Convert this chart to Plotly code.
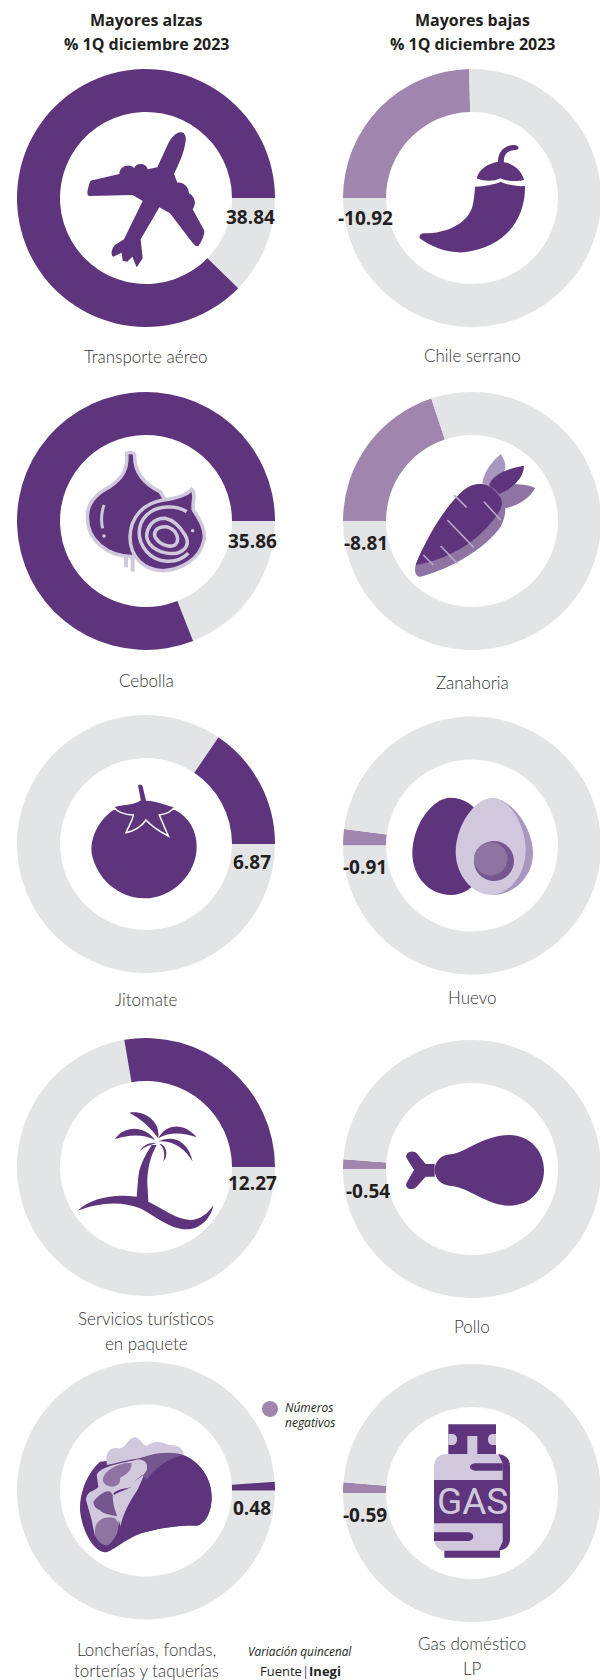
import re
import plotly.graph_objects as go

# La página añade 8 px de margen al cuerpo: la figura ocupa 600x1672 a partir de (8, 8).
PAGE_MARGIN = 8
W, H = 600, 1672
PURPLE = "#5E357C"
NEG = "#A085AE"
GRAY = "#E3E4E6"
L1 = "#D2C8DE"
L2 = "#A996BF"
L3 = "#8F74A3"
L4 = "#76568F"
DARK = "#231F20"
LABEL = "#333335"
FONT = "Open Sans"
LABEL_FONT = "Lato"

SCALE_MAX = 44.3

alzas_names = ["Transporte aéreo", "Cebolla", "Jitomate", "Servicios turísticos<br>en paquete",
               "Loncherías, fondas,<br>torterías y taquerías"]
alzas_values = [38.84, 35.86, 6.87, 12.27, 0.48]
alzas_labels = ["38.84", "35.86", "6.87", "12.27", "0.48"]
bajas_names = ["Chile serrano", "Zanahoria", "Huevo", "Pollo", "Gas doméstico<br>LP"]
bajas_values = [-10.92, -8.81, -0.91, -0.54, -0.59]
bajas_labels = ["-10.92", "-8.81", "-0.91", "-0.54", "-0.59"]

left_cx = 146
right_cx = 472
left_cy = [198, 521, 844, 1167, 1490.5]
right_cy = [198, 521, 845.5, 1169, 1493]
R = 129
HOLE = 86 / 129

left_val_pos = [(250, 217), (252, 541), (252, 862), (252, 1183), (252, 1508)]
right_val_pos = [(365, 218), (366, 543), (365, 867), (368, 1191), (365, 1515)]
left_lab_y = [357, 680, 999, 1330, 1662]
right_lab_y = [355, 683, 998, 1326, 1655]


def px(x):
    return (x - PAGE_MARGIN) / W


def py(y):
    return 1 - (y - PAGE_MARGIN) / H


fig = go.Figure()


def donut(cx, cy, val):
    v = abs(val)
    rest = SCALE_MAX - v
    pos = val > 0
    fig.add_trace(go.Pie(
        values=[rest, v] if pos else [v, rest],
        marker=dict(colors=[GRAY, PURPLE] if pos else [NEG, GRAY], line=dict(width=0)),
        hole=HOLE, sort=False, textinfo="none", hoverinfo="skip", showlegend=False,
        rotation=90 if pos else 270,
        direction="clockwise",
        domain=dict(x=[px(cx - R), px(cx + R)], y=[py(cy + R), py(cy - R)]),
    ))


for c, v in zip(left_cy, alzas_values):
    donut(left_cx, c, v)
for c, v in zip(right_cy, bajas_values):
    donut(right_cx, c, v)


def to_paper(path, x0, y0):
    toks = re.findall(r"[MLCQZ]|-?\d+\.?\d*", path)
    out, is_x = [], True
    for t in toks:
        if t in "MLCQZ":
            out.append(t)
        else:
            n = float(t)
            if is_x:
                out.append(f"{px(x0 + n / 3):.5f},")
            else:
                out.append(f"{py(y0 + n / 3):.5f}")
            is_x = not is_x
    return " ".join(out).replace(", ", ",")


shapes = []


def icon(path, x0, y0, fill=PURPLE, line=None, lw=0):
    shapes.append(dict(
        type="path", xref="paper", yref="paper", layer="above",
        path=to_paper(path, x0, y0),
        fillcolor=fill if fill else "rgba(0,0,0,0)",
        line=dict(color=line if line else "rgba(0,0,0,0)", width=lw),
    ))


def stroke(path, x0, y0, color, lw):
    icon(path, x0, y0, fill=None, line=color, lw=lw)


def circ(cx, cy, r):
    k = 0.5523 * r
    return (f"M {cx-r} {cy} C {cx-r} {cy-k} {cx-k} {cy-r} {cx} {cy-r} "
            f"C {cx+k} {cy-r} {cx+r} {cy-k} {cx+r} {cy} "
            f"C {cx+r} {cy+k} {cx+k} {cy+r} {cx} {cy+r} "
            f"C {cx-k} {cy+r} {cx-r} {cy+k} {cx-r} {cy} Z")


# Avión
icon("M 540 397 C 555 395 560 410 556 430 C 550 465 535 495 522 522 L 532 548 C 545 545 565 555 567 580 "
     "C 585 590 590 610 578 628 L 612 690 C 616 700 605 725 595 738 C 585 740 580 730 575 725 L 510 640 "
     "L 478 622 L 422 718 L 428 775 L 410 802 L 397 770 L 382 785 L 368 782 L 365 758 L 340 770 "
     "C 330 765 335 745 345 735 L 372 718 L 428 603 L 398 585 L 268 588 C 258 585 262 570 270 545 "
     "C 275 540 280 540 290 538 L 358 522 C 358 495 395 490 402 505 C 410 485 440 490 443 508 L 472 502 "
     "L 505 430 C 515 410 530 398 540 397 Z", 0, 0)

# Chile
icon("M 518 535 C 525 505 555 490 582 485 C 582 465 590 440 625 435 C 645 432 650 448 635 450 "
     "C 610 450 598 465 600 487 C 630 490 655 515 660 540 C 640 545 610 545 590 535 C 570 545 540 545 518 535 Z",
     304, 0)
icon("M 513 560 C 540 558 570 555 590 545 C 610 555 640 560 663 558 C 665 640 620 740 480 757 "
     "C 430 760 380 740 347 715 C 345 705 350 700 360 700 C 430 700 490 670 505 620 C 510 600 512 580 513 560 Z",
     304, 0)

# Cebolla
ox, oy = 0, 380
stroke("M 378 530 L 378 562", ox, oy, L1, 4)
stroke("M 398 530 L 398 575", ox, oy, L1, 4)
icon("M 380 220 C 392 215 402 218 404 225 C 402 275 430 310 480 335 L 495 360 L 400 530 "
     "C 320 530 262 480 262 410 C 262 370 290 340 330 320 C 365 295 385 270 380 220 Z",
     ox, oy, PURPLE, L1, 3.5)
stroke("M 312 375 C 305 395 302 420 308 445", ox, oy, L1, 3)
icon(circ(312, 468, 5), ox, oy, L1)
icon("M 575 328 C 590 340 575 370 580 390 C 600 420 618 450 612 480 C 600 540 540 570 490 572 "
     "C 430 570 390 530 390 470 C 392 410 430 370 490 360 C 530 355 560 345 575 328 Z",
     ox, oy, PURPLE, L1, 3.5)
stroke("M 560 395 C 530 375 470 375 440 405 C 410 435 410 480 440 515 C 470 550 530 555 565 520", ox, oy, L1, 3.5)
stroke("M 495 415 C 460 415 440 440 440 470 C 445 505 490 525 530 520 C 560 510 570 490 555 465 "
       "C 540 440 520 420 495 415 Z", ox, oy, L1, 3.5)
stroke("M 495 440 C 470 440 460 455 465 470 C 475 490 505 505 525 495 C 535 485 535 470 525 455 "
       "C 515 445 505 440 495 440 Z", ox, oy, L1, 3.5)
icon(circ(578, 452, 5), ox, oy, L1)

# Zanahoria
ox, oy = 304, 380
icon("M 535 310 C 540 270 570 240 590 222 C 600 235 610 260 600 275 C 585 290 570 305 555 320 Z", ox, oy, L2)
icon("M 575 335 L 620 313 C 650 312 680 315 693 325 C 680 350 650 375 605 385 Z", ox, oy, L3)
icon("M 555 315 C 565 285 610 265 660 257 C 660 285 640 310 610 330 C 590 340 580 345 575 345 Z", ox, oy)
icon("M 335 555 C 360 490 420 380 480 330 C 510 305 550 305 580 335 C 610 370 610 400 590 440 "
     "C 540 510 440 565 350 590 C 335 590 330 575 335 555 Z", ox, oy, L3)
icon("M 335 555 C 360 490 420 380 480 330 C 510 305 550 305 575 335 C 605 365 600 380 560 430 "
     "C 510 490 430 540 335 555 Z", ox, oy)
for seg in ["M 450 345 L 488 382", "M 540 365 L 590 420", "M 430 420 L 510 503",
            "M 410 498 L 460 550", "M 358 525 L 388 555"]:
    stroke(seg, ox, oy, "#B9A8C9", 1.6)

# Jitomate
ox, oy = 0, 710
icon("M 340 300 C 290 335 270 390 275 430 C 290 510 360 565 432 565 C 520 565 590 490 590 410 "
     "C 590 360 565 320 525 300 Z", ox, oy)
icon("M 340 290 C 370 280 400 285 420 270 L 412 228 C 412 220 428 220 430 228 L 440 270 C 470 270 500 285 525 290 "
     "C 515 305 500 312 478 315 L 505 378 C 480 365 455 350 438 330 C 425 350 400 365 378 368 "
     "C 388 345 398 330 400 315 C 380 315 355 310 340 290 Z", ox, oy, PURPLE, "#FFFFFF", 1.5)

# Huevo
ox, oy = 304, 710
icon("M 438 263 C 390 263 325 340 325 430 C 325 500 375 555 440 555 C 480 555 510 530 530 500 L 530 320 "
     "C 510 285 480 263 438 263 Z", ox, oy)
icon("M 565 263 C 630 270 687 360 687 430 C 687 500 630 555 565 555 Z", ox, oy, L2)
icon("M 565 263 C 620 265 665 350 665 420 C 665 490 620 550 565 555 C 500 555 455 490 455 425 "
     "C 455 350 510 265 565 263 Z", ox, oy, L1)
icon(circ(570, 453, 60), ox, oy, L4)
icon(circ(560, 447, 50), ox, oy, L3)

# Palmera
ox, oy = 0, 1030
icon("M 233 542 C 270 505 340 490 410 500 L 415 440 C 420 400 440 370 455 345 L 470 345 C 450 380 442 420 442 460 "
     "L 445 515 C 490 535 520 565 570 570 C 600 570 625 550 640 525 C 635 560 605 595 565 598 "
     "C 510 600 470 560 420 535 C 360 510 290 520 233 542 Z", ox, oy)
icon("M 388 248 C 430 240 482 270 475 325 C 450 290 420 265 388 248 Z", ox, oy)
icon("M 345 327 C 370 288 432 283 465 330 C 430 312 390 313 345 327 Z", ox, oy)
icon("M 590 322 C 555 278 498 278 475 325 C 510 305 550 308 590 322 Z", ox, oy)
icon("M 578 395 C 568 345 530 308 472 335 C 520 328 558 360 578 395 Z", ox, oy)
icon("M 420 362 C 430 345 450 335 468 340 C 450 345 435 350 420 362 Z", ox, oy)
icon("M 490 395 C 497 370 490 350 478 342 C 497 342 508 375 490 395 Z", ox, oy)

# Pollo
ox, oy = 304, 1030
icon("M 392 402 L 365 402 L 340 372 C 325 355 300 370 308 385 L 330 420 L 308 458 C 300 475 325 485 338 470 "
     "L 365 440 L 392 440 Z", ox, oy)
icon("M 392 420 C 392 395 410 375 440 373 C 480 370 540 315 615 315 C 680 315 720 365 720 420 "
     "C 720 480 680 527 615 527 C 550 527 490 470 440 468 C 410 465 392 445 392 420 Z", ox, oy)

# Taco
ox, oy = 0, 1360
icon("M 300 305 C 260 340 238 400 240 450 C 245 510 280 575 315 577 C 340 575 380 530 440 515 "
     "C 500 500 560 495 590 497 C 620 490 635 450 635 410 C 635 350 590 290 530 280 Z", ox, oy)
icon("M 320 305 C 315 280 330 260 355 265 C 375 270 385 230 405 232 C 425 235 430 265 445 255 "
     "C 470 235 490 250 510 255 C 540 255 550 270 552 285 C 500 275 450 285 420 295 C 380 300 350 310 320 315 Z",
     ox, oy, L1)
icon("M 400 305 C 440 280 510 270 550 285 C 500 295 460 330 440 360 L 420 340 Z", ox, oy, L4)
icon("M 290 345 C 300 320 360 310 405 300 C 425 295 445 305 440 325 C 435 350 400 355 400 380 "
     "C 385 385 355 385 340 400 L 360 450 L 355 495 C 320 470 290 470 285 530 L 275 480 L 258 420 "
     "C 260 390 285 395 295 380 Z", ox, oy, L1)
icon("M 310 350 C 320 330 360 305 395 310 C 395 340 370 345 360 355 C 365 375 340 385 325 378 "
     "C 315 375 305 365 310 350 Z", ox, oy, L3)
icon("M 285 510 C 285 480 320 465 345 475 C 365 490 355 530 325 555 C 305 560 280 535 285 510 Z", ox, oy, L3)
icon("M 280 425 C 300 400 325 385 335 400 C 345 420 360 445 360 470 C 330 465 305 460 300 450 "
     "C 285 445 280 435 280 425 Z", ox, oy, L4)
icon("M 400 310 C 425 290 445 310 440 330 C 430 355 395 360 395 380 C 390 385 340 400 338 410 "
     "C 340 450 355 470 362 500 L 390 440 L 430 350 Z", ox, oy, L1)
icon("M 362 495 C 380 420 450 320 540 295 C 590 290 635 350 635 410 C 635 450 620 490 590 497 "
     "C 560 495 500 500 440 515 C 410 520 380 535 355 552 Z", ox, oy)

# Gas
ox, oy = 230, 1360
icon("M 655 193 L 798 193 L 798 283 L 655 283 Z", ox, oy)
icon("M 655 222 L 670 222 C 685 225 685 252 670 255 L 655 255 Z", ox, oy, L1)
icon("M 798 222 L 785 222 C 770 225 770 252 785 255 L 798 255 Z", ox, oy, L1)
icon("M 712 228 L 742 228 L 742 283 L 712 283 Z", ox, oy, L1)
icon("M 643 570 L 810 570 L 810 593 L 643 593 Z", ox, oy)
icon("M 640 283 L 810 283 C 830 285 840 300 840 320 L 840 535 C 840 555 830 570 810 572 L 640 572 "
     "C 625 570 612 555 612 535 L 612 320 C 612 300 625 285 640 283 Z", ox, oy, L1)
icon("M 805 283 C 830 285 840 300 840 320 L 840 535 C 840 555 830 570 805 572 L 818 545 L 818 310 Z", ox, oy)
icon("M 612 360 L 840 360 L 840 490 L 612 490 Z", ox, oy)
icon("M 818 310 L 735 310 C 715 312 715 330 735 332 L 818 332 Z", ox, oy)
icon("M 612 517 L 715 517 C 735 519 735 541 715 543 L 612 543 Z", ox, oy)

# Punto de la leyenda
shapes.append(dict(type="circle", xref="paper", yref="paper", layer="above",
                   x0=px(262), x1=px(278), y0=py(1417), y1=py(1401),
                   fillcolor=NEG, line=dict(width=0)))

annotations = []


def text(x, y, s, size, color=DARK, weight=None, style=None, family=FONT, anchor="center"):
    f = dict(family=family, size=size, color=color)
    if weight:
        f["weight"] = weight
    if style:
        f["style"] = style
    annotations.append(dict(xref="paper", yref="paper", x=px(x), y=py(y), text=s, showarrow=False,
                            xanchor=anchor, yanchor="middle", font=f, align="center", borderpad=0))


text(146, 20, "Mayores alzas", 16, weight=700)
text(146, 44, "% 1Q diciembre 2023", 16, weight=700)
text(472, 20, "Mayores bajas", 16, weight=700)
text(472, 44, "% 1Q diciembre 2023", 16, weight=700)

for (x, y), s in zip(left_val_pos + right_val_pos, alzas_labels + bajas_labels):
    text(x, y, s, 19, weight=700)

LABEL_SIZE = 17
LABEL_WEIGHT = 300
for y, s in zip(left_lab_y, alzas_names):
    if "<br>" in s:
        a, b = s.split("<br>")
        gap = {"Servicios turísticos": (1318, 1343), "Loncherías, fondas,": (1649, 1670)}[a]
        text(146, gap[0], a, LABEL_SIZE, LABEL, LABEL_WEIGHT, family=LABEL_FONT)
        text(146, gap[1], b, LABEL_SIZE, LABEL, LABEL_WEIGHT, family=LABEL_FONT)
    else:
        text(146, y, s, LABEL_SIZE, LABEL, LABEL_WEIGHT, family=LABEL_FONT)
for y, s in zip(right_lab_y, bajas_names):
    if "<br>" in s:
        a, b = s.split("<br>")
        text(472, 1643, a, LABEL_SIZE, LABEL, LABEL_WEIGHT, family=LABEL_FONT)
        text(472, 1668, b, LABEL_SIZE, LABEL, LABEL_WEIGHT, family=LABEL_FONT)
    else:
        text(472, y, s, LABEL_SIZE, LABEL, LABEL_WEIGHT, family=LABEL_FONT)

text(284, 1407, "Números", 12, DARK, style="italic", anchor="left")
text(284, 1422, "negativos", 12, DARK, style="italic", anchor="left")
text(300, 1651, "Variación quincenal", 11.8, DARK, style="italic")
text(300, 1671, f'Fuente<span style="color:{PURPLE}">|</span><b>Inegi</b>', 13, DARK)
text(230 + 726 / 3, 1360 + 425 / 3, "GAS", 37, L1, family="Liberation Sans Narrow, Roboto")

fig.update_layout(width=W, height=H, margin=dict(l=0, r=0, t=0, b=0),
                  paper_bgcolor="#FFFFFF", plot_bgcolor="#FFFFFF",
                  shapes=shapes, annotations=annotations, showlegend=False)
fig.write_html("out.html", config=dict(displayModeBar=False))
